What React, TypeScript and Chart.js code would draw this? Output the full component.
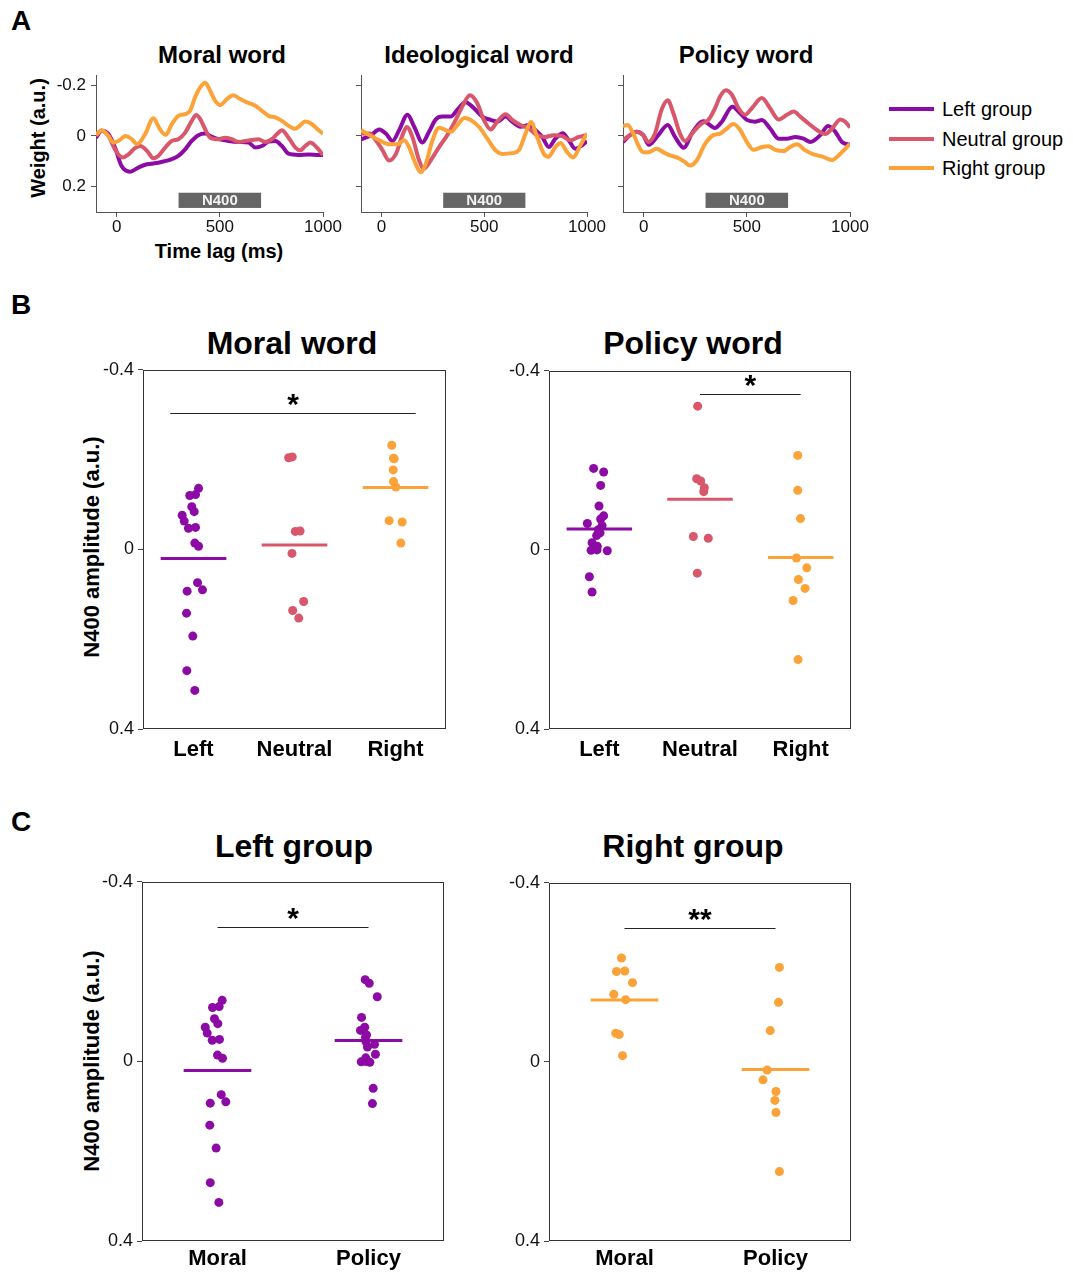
import React, { useEffect, useRef } from 'react';
import { Chart, registerables } from 'chart.js';

Chart.register(...registerables);

const FONT = '"Liberation Sans", Arial, Helvetica, sans-serif';
Chart.defaults.font.family = FONT;

const PURPLE = '#8C0BA5';
const PINK = '#D8576B';
const ORANGE = '#FBA238';
const groupNames = ['Left group', 'Neutral group', 'Right group'];
const groupColors = [PURPLE, PINK, ORANGE];

// ---------------- Panel A: TRF weights, [time lag (ms), weight (a.u.)] ----------------
const timeTicks = [0, 500, 1000];
const weightTicks = [-0.2, 0, 0.2];
const n400Window = [300, 700];

const moralLeft = [[-100, 0.007], [-73, -0.02], [-40, -0.007], [-8, 0.046], [24, 0.119], [65, 0.141], [105, 0.125], [146, 0.112], [202, 0.106], [267, 0.092], [299, 0.079], [332, 0.053], [364, 0.02], [396, -0.003], [429, -0.009], [461, 0.003], [494, 0.013], [542, 0.02], [591, 0.024], [639, 0.026], [672, 0.046], [704, 0.04], [736, 0.022], [769, 0.02], [801, 0.04], [833, 0.07], [882, 0.075], [930, 0.073], [979, 0.075], [1000, 0.075]];
const moralNeutral = [[-100, 0], [-73, -0.02], [-40, 0], [-8, 0.053], [27, 0.085], [57, 0.073], [89, 0.048], [115, 0.04], [150, 0.062], [178, 0.088], [202, 0.079], [235, 0.046], [267, 0.02], [299, 0.013], [332, -0.013], [364, -0.059], [385, -0.082], [405, -0.066], [429, -0.026], [453, 0.007], [494, 0.013], [526, 0.007], [558, 0.013], [591, 0.024], [623, 0.02], [655, 0.016], [688, 0.013], [720, 0.024], [752, 0.013], [777, -0.007], [801, -0.022], [833, 0.007], [866, 0.046], [890, 0.057], [914, 0.04], [939, 0.026], [963, 0.04], [1000, 0.075]];
const moralRight = [[-100, -0.005], [-73, -0.022], [-40, 0], [-16, 0.026], [8, 0.02], [45, 0], [73, 0.013], [100, 0.032], [138, -0.007], [178, -0.07], [210, -0.026], [238, -0.004], [267, -0.046], [299, -0.079], [332, -0.086], [356, -0.099], [380, -0.152], [405, -0.191], [429, -0.209], [453, -0.178], [477, -0.139], [502, -0.121], [534, -0.145], [566, -0.16], [599, -0.145], [631, -0.132], [672, -0.119], [704, -0.099], [736, -0.079], [769, -0.073], [801, -0.059], [833, -0.04], [862, -0.028], [882, -0.036], [914, -0.057], [947, -0.046], [979, -0.022], [1000, -0.009]];

const ideoLeft = [[-100, 0.014], [-52, -0.003], [-11, -0.025], [21, -0.009], [53, 0.02], [86, -0.023], [126, -0.083], [159, -0.036], [199, 0.026], [231, -0.016], [264, -0.065], [296, -0.076], [337, -0.076], [369, -0.103], [409, -0.133], [450, -0.109], [490, -0.076], [531, -0.063], [563, -0.056], [604, -0.076], [636, -0.056], [676, -0.036], [717, -0.043], [749, -0.023], [782, 0.004], [814, 0.044], [846, 0.011], [882, -0.01], [911, 0.017], [943, 0.051], [976, 0.037], [1000, 0.02]];
const ideoNeutral = [[-100, -0.009], [-60, -0.009], [-28, 0.017], [5, 0.057], [37, 0.097], [70, 0.071], [102, -0.003], [123, -0.035], [150, 0.004], [183, 0.097], [205, 0.13], [239, 0.097], [280, 0.044], [320, -0.003], [361, -0.063], [393, -0.116], [430, -0.16], [466, -0.129], [498, -0.063], [531, -0.025], [563, -0.056], [604, -0.085], [636, -0.063], [676, -0.043], [717, -0.029], [757, -0.003], [798, 0.004], [838, -0.003], [879, 0.001], [919, 0.017], [960, 0.004], [1000, -0.003]];
const ideoRight = [[-100, -0.023], [-60, -0.003], [-11, 0.017], [37, 0.033], [78, 0.033], [110, 0.017], [134, 0.044], [159, 0.097], [192, 0.143], [215, 0.111], [248, 0.017], [280, -0.032], [312, -0.023], [337, -0.016], [369, -0.043], [404, -0.071], [434, -0.063], [474, -0.036], [515, 0.011], [555, 0.057], [587, 0.071], [636, 0.068], [668, 0.057], [701, -0.009], [727, -0.055], [757, 0.004], [790, 0.071], [812, 0.082], [846, 0.044], [871, 0.028], [903, 0.064], [932, 0.085], [968, 0.037], [1000, -0.009]];

const policyLeft = [[-100, 0.024], [-66, -0.003], [-34, -0.016], [-2, -0.003], [25, 0.035], [71, -0.003], [117, -0.043], [152, 0.004], [195, 0.047], [233, -0.009], [273, -0.052], [290, -0.058], [306, -0.052], [345, -0.031], [379, -0.056], [430, -0.115], [468, -0.089], [500, -0.063], [540, -0.056], [573, -0.063], [613, -0.029], [654, 0.011], [694, 0.011], [735, 0.004], [775, 0.011], [808, 0.024], [856, -0.003], [894, -0.039], [929, -0.016], [961, 0.024], [1000, 0.035]];
const policyNeutral = [[-100, 0.017], [-66, -0.003], [-34, -0.016], [-2, -0.003], [23, 0.024], [55, -0.009], [87, -0.103], [117, -0.14], [144, -0.089], [176, -0.009], [201, 0.02], [241, -0.016], [282, -0.049], [314, -0.063], [346, -0.109], [371, -0.156], [398, -0.18], [427, -0.163], [460, -0.109], [492, -0.083], [524, -0.109], [573, -0.149], [613, -0.109], [654, -0.065], [694, -0.083], [727, -0.096], [759, -0.076], [799, -0.049], [840, -0.023], [880, -0.007], [913, -0.029], [953, -0.065], [977, -0.056], [1000, -0.033]];
const policyRight = [[-100, -0.039], [-78, -0.043], [-50, -0.009], [-26, 0.037], [-2, 0.064], [23, 0.064], [63, 0.051], [95, 0.064], [128, 0.077], [168, 0.087], [201, 0.104], [225, 0.117], [257, 0.097], [298, 0.031], [338, -0.003], [371, -0.009], [403, -0.029], [435, -0.047], [468, -0.023], [500, 0.024], [532, 0.055], [573, 0.044], [605, 0.041], [638, 0.055], [678, 0.06], [710, 0.044], [743, 0.033], [783, 0.057], [824, 0.073], [864, 0.081], [913, 0.095], [945, 0.077], [977, 0.051], [1000, 0.031]];

// ---------------- Panels B & C: N400 amplitude per participant ----------------
const groupCats = ['Left', 'Neutral', 'Right'];
const wordCats = ['Moral', 'Policy'];
const ampTicks = [-0.4, 0, 0.4];

const leftMoral = [-0.136, -0.120, -0.122, -0.095, -0.084, -0.076, -0.063, -0.047, -0.049, -0.014, -0.007, 0.074, 0.093, 0.090, 0.142, 0.193, 0.270, 0.314];
const neutralMoral = [-0.204, -0.206, -0.040, -0.041, 0.009, 0.116, 0.136, 0.153];
const rightMoral = [-0.232, -0.203, -0.202, -0.177, -0.151, -0.139, -0.064, -0.061, -0.014];
const leftPolicy = [-0.182, -0.174, -0.144, -0.098, -0.076, -0.069, -0.059, -0.054, -0.045, -0.038, -0.032, -0.016, -0.008, 0.001, 0.0, 0.002, 0.060, 0.094];
const neutralPolicy = [-0.321, -0.159, -0.154, -0.139, -0.130, -0.030, -0.026, 0.052];
const rightPolicy = [-0.211, -0.133, -0.070, 0.018, 0.040, 0.066, 0.086, 0.113, 0.245];

// strip-plot horizontal jitter (category units)
const jitLeftMoralB = [0.05, -0.037, 0.02, -0.017, 0.007, -0.112, -0.092, -0.05, 0.02, 0.013, 0.05, 0.04, -0.063, 0.089, -0.069, -0.007, -0.066, 0.013];
const jitNeutralMoralB = [-0.058, -0.022, 0.008, 0.055, -0.025, 0.091, -0.018, 0.042];
const jitRightMoralB = [-0.037, -0.02, -0.013, -0.023, -0.02, 0.003, -0.063, 0.066, 0.053];
const jitLeftPolicyB = [-0.057, 0.043, 0.013, -0.003, 0.043, 0.013, -0.119, 0.027, -0.01, 0.007, -0.027, -0.072, -0.02, -0.082, -0.023, 0.079, -0.099, -0.072];
const jitNeutralPolicyB = [-0.023, -0.033, 0.007, 0.043, 0.037, -0.066, 0.082, -0.027];
const jitRightPolicyB = [-0.029, -0.029, -0.002, -0.042, 0.061, -0.022, 0.044, -0.075, -0.026];
const jitLeftMoralC = [0.031, -0.033, 0.011, -0.02, 0.002, -0.081, -0.068, -0.035, 0.013, 0, 0.033, 0.025, -0.048, 0.055, -0.051, -0.009, -0.048, 0.009];
const jitLeftPolicyC = [-0.022, 0.005, 0.058, -0.046, -0.025, -0.053, -0.013, -0.02, -0.018, 0.04, -0.007, 0.046, -0.018, -0.048, -0.018, 0.009, 0.031, 0.026];
const jitRightMoralC = [-0.02, 0.002, -0.053, 0.053, -0.071, 0.007, -0.058, -0.035, -0.013];
const jitRightPolicyC = [0.026, 0.02, -0.035, -0.055, -0.083, 0.003, -0.004, 0.003, 0.026];

// significance brackets: [from category, to category, amplitude level]
const sigMoralB = { from: -0.23, to: 2.2, at: -0.303, mark: '*' };
const sigPolicyB = { from: 1, to: 2, at: -0.348, mark: '*' };
const sigLeftC = { from: 0, to: 1, at: -0.299, mark: '*' };
const sigRightC = { from: 0, to: 1, at: -0.299, mark: '**' };

// ---------------------------------------------------------------------------
const fmtTick = (v: number) => (v === 0 ? '0' : String(v));
const mean = (a: number[]) => a.reduce((s, v) => s + v, 0) / a.length;

const n400Plugin = {
  id: 'n400',
  afterDatasetsDraw(chart: any) {
    const { ctx, scales } = chart;
    const x0 = scales.x.getPixelForValue(n400Window[0]);
    const x1 = scales.x.getPixelForValue(n400Window[1]);
    const y0 = scales.y.getPixelForValue(0.224);
    const y1 = scales.y.getPixelForValue(0.284);
    ctx.save();
    ctx.fillStyle = '#666666';
    ctx.fillRect(x0, y0, x1 - x0, y1 - y0);
    ctx.fillStyle = '#f2f2f2';
    ctx.font = `bold 15px ${FONT}`;
    ctx.textAlign = 'center';
    ctx.textBaseline = 'middle';
    ctx.fillText('N400', (x0 + x1) / 2, (y0 + y1) / 2 + 1);
    ctx.restore();
  },
};

function trfConfig(series: number[][][], showY: boolean): any {
  const axisColor = '#555';
  return {
    type: 'line',
    data: {
      datasets: series.map((s, i) => ({
        label: groupNames[i],
        data: s.map(([t, w]) => ({ x: t, y: w })),
        borderColor: groupColors[i],
        borderWidth: 4,
        pointRadius: 0,
        cubicInterpolationMode: 'monotone',
        fill: false,
        order: series.length - i,
      })),
    },
    options: {
      animation: false,
      responsive: false,
      events: [],
      layout: { padding: { top: 16, right: 27, left: 0, bottom: 0 } },
      plugins: { legend: { display: false }, tooltip: { enabled: false }, title: { display: false } },
      scales: {
        x: {
          type: 'linear',
          min: -100,
          max: 1000,
          afterBuildTicks: (s: any) => { s.ticks = timeTicks.map((v) => ({ value: v })); },
          afterFit: (s: any) => { s.height = 33; },
          ticks: { font: { size: 17 }, color: '#111', padding: 0, maxRotation: 0, autoSkip: false, callback: (v: any) => String(v) },
          grid: { display: true, drawOnChartArea: false, drawTicks: true, tickLength: 5, color: axisColor },
          border: { display: true, color: axisColor, width: 1 },
        },
        y: {
          type: 'linear',
          reverse: true,
          min: -0.24,
          max: 0.3,
          afterBuildTicks: (s: any) => { s.ticks = weightTicks.map((v) => ({ value: v })); },
          afterFit: (s: any) => { s.width = 56; },
          ticks: { font: { size: 17 }, color: '#111', padding: 5, autoSkip: false, callback: (v: any) => (showY ? fmtTick(v) : '') },
          grid: { display: true, drawOnChartArea: false, drawTicks: true, tickLength: 5, color: axisColor },
          border: { display: true, color: axisColor, width: 1 },
        },
      },
    },
    plugins: [n400Plugin],
  };
}

type Strip = { values: number[]; jitter: number[]; cat: number; color: string };
type Sig = { from: number; to: number; at: number; mark: string };

function boxPlugin() {
  return {
    id: 'box',
    afterDraw(chart: any) {
      const { ctx, chartArea: a } = chart;
      ctx.save();
      ctx.strokeStyle = '#333';
      ctx.lineWidth = 1;
      const l = Math.round(a.left) + 0.5, t = Math.round(a.top) + 0.5;
      const r = Math.round(a.right) - 0.5, b = Math.round(a.bottom) - 0.5;
      ctx.strokeRect(l, t, r - l, b - t);
      ctx.restore();
    },
  };
}

function sigPlugin(sig: Sig) {
  return {
    id: 'sig',
    afterDatasetsDraw(chart: any) {
      const { ctx, scales } = chart;
      const x0 = scales.x.getPixelForValue(sig.from);
      const x1 = scales.x.getPixelForValue(sig.to);
      const yy = Math.round(scales.y.getPixelForValue(sig.at)) + 0.5;
      ctx.save();
      ctx.strokeStyle = '#222';
      ctx.lineWidth = 1;
      ctx.beginPath();
      ctx.moveTo(x0, yy);
      ctx.lineTo(x1, yy);
      ctx.stroke();
      const fs = 30;
      ctx.fillStyle = '#000';
      ctx.font = `bold ${fs}px ${FONT}`;
      ctx.textAlign = 'center';
      ctx.textBaseline = 'alphabetic';
      ctx.fillText(sig.mark, (x0 + x1) / 2, yy - 13 + 0.45 * fs);
      ctx.restore();
    },
  };
}

function dotConfig(cats: string[], strips: Strip[], sig: Sig, hw: number, xh: number, xpad: number): any {
  const datasets: any[] = [];
  strips.forEach((s) => {
    datasets.push({
      type: 'scatter',
      data: s.values.map((v, k) => ({ x: s.cat + s.jitter[k], y: v })),
      pointRadius: 4.5,
      pointBackgroundColor: s.color,
      pointBorderColor: s.color,
      pointBorderWidth: 0,
      order: 2,
    });
    const m = mean(s.values);
    datasets.push({
      type: 'line',
      data: [{ x: s.cat - hw, y: m }, { x: s.cat + hw, y: m }],
      borderColor: s.color,
      borderWidth: 3,
      pointRadius: 0,
      showLine: true,
      fill: false,
      order: 1,
    });
  });
  return {
    type: 'scatter',
    data: { datasets },
    options: {
      animation: false,
      responsive: false,
      events: [],
      layout: { padding: { top: 12, right: 20, left: 0, bottom: 0 } },
      plugins: { legend: { display: false }, tooltip: { enabled: false } },
      scales: {
        x: {
          type: 'linear',
          min: -0.5,
          max: cats.length - 0.5,
          afterBuildTicks: (s: any) => { s.ticks = cats.map((_, i) => ({ value: i })); },
          afterFit: (s: any) => { s.height = xh; },
          ticks: { font: { size: 22, weight: 'bold' }, color: '#000', padding: xpad, maxRotation: 0, autoSkip: false, callback: (v: any) => cats[Number(v)] ?? '' },
          grid: { display: false },
          border: { display: false },
        },
        y: {
          type: 'linear',
          reverse: true,
          min: -0.4,
          max: 0.4,
          afterBuildTicks: (s: any) => { s.ticks = ampTicks.map((v) => ({ value: v })); },
          afterFit: (s: any) => { s.width = 50; },
          ticks: { font: { size: 18 }, color: '#111', padding: 4, autoSkip: false, callback: (v: any) => fmtTick(v) },
          grid: { display: true, drawOnChartArea: false, drawTicks: true, tickLength: 5, color: '#444' },
          border: { display: false },
        },
      },
    },
    plugins: [boxPlugin(), sigPlugin(sig)],
  };
}

function ChartCanvas({ left, top, width, height, make }: any) {
  const ref = useRef<HTMLCanvasElement | null>(null);
  useEffect(() => {
    if (!ref.current) return;
    const chart = new Chart(ref.current, make());
    return () => chart.destroy();
  }, []);
  return <canvas ref={ref} width={width} height={height} style={{ position: 'absolute', left, top, width, height }} />;
}

function Label({ x, y, text, size, bold = false, rotate = false, anchor = 'center' }: any) {
  const tx = anchor === 'left' ? '0' : '-50%';
  return (
    <div
      style={{
        position: 'absolute',
        left: x,
        top: y,
        transform: `translate(${tx}, -50%)${rotate ? ' rotate(-90deg)' : ''}`,
        fontSize: size,
        fontWeight: bold ? 700 : 400,
        lineHeight: 1,
        whiteSpace: 'nowrap',
        fontFamily: FONT,
        color: '#000',
      }}
    >
      {text}
    </div>
  );
}

// plot-area rectangles (page px) -> canvas rectangles
function trfCanvas(a: { L: number; T: number; R: number; B: number }) {
  return { left: a.L - 56, top: a.T - 16, width: a.R + 27 - (a.L - 56), height: a.B + 33 - (a.T - 16) };
}
function dotCanvas(a: { L: number; T: number; R: number; B: number }, xh: number) {
  return { left: a.L - 50, top: a.T - 12, width: a.R + 20 - (a.L - 50), height: a.B + xh - (a.T - 12) };
}

export default function App() {
  const aMoral = trfCanvas({ L: 96, T: 75, R: 323, B: 212 });
  const aIdeo = trfCanvas({ L: 361, T: 75, R: 587, B: 212 });
  const aPolicy = trfCanvas({ L: 623, T: 75, R: 850, B: 212 });
  const bMoral = dotCanvas({ L: 143, T: 367, R: 446, B: 729 }, 36);
  const bPolicy = dotCanvas({ L: 549, T: 368, R: 851, B: 729 }, 36);
  const cLeft = dotCanvas({ L: 142, T: 879, R: 444, B: 1241 }, 30);
  const cRight = dotCanvas({ L: 549, T: 880, R: 851, B: 1241 }, 30);

  return (
    <div style={{ position: 'absolute', left: 0, top: 0, width: 1073, height: 1272, overflow: 'hidden', background: '#fff' }}>
      {/* Panel A */}
      <Label x={21} y={21} size={28} bold text="A" />
      <Label x={222} y={55} size={24} bold text="Moral word" />
      <Label x={479} y={55} size={24} bold text="Ideological word" />
      <Label x={746} y={55} size={24} bold text="Policy word" />
      <Label x={38} y={138} size={20} bold rotate text="Weight (a.u.)" />
      <Label x={219} y={251} size={20} bold text="Time lag (ms)" />
      <ChartCanvas {...aMoral} make={() => trfConfig([moralLeft, moralNeutral, moralRight], true)} />
      <ChartCanvas {...aIdeo} make={() => trfConfig([ideoLeft, ideoNeutral, ideoRight], false)} />
      <ChartCanvas {...aPolicy} make={() => trfConfig([policyLeft, policyNeutral, policyRight], false)} />
      {groupNames.map((g, i) => (
        <React.Fragment key={g}>
          <div style={{ position: 'absolute', left: 889, top: [109, 138.5, 168][i] - 2, width: 45, height: 4, background: groupColors[i] }} />
          <Label x={942} y={[109, 138.5, 168][i]} size={20} anchor="left" text={g} />
        </React.Fragment>
      ))}

      {/* Panel B */}
      <Label x={21} y={305} size={28} bold text="B" />
      <Label x={292} y={343} size={32} bold text="Moral word" />
      <Label x={693} y={343} size={32} bold text="Policy word" />
      <Label x={92} y={547} size={22} bold rotate text="N400 amplitude (a.u.)" />
      <ChartCanvas
        {...bMoral}
        make={() =>
          dotConfig(
            groupCats,
            [
              { values: leftMoral, jitter: jitLeftMoralB, cat: 0, color: PURPLE },
              { values: neutralMoral, jitter: jitNeutralMoralB, cat: 1, color: PINK },
              { values: rightMoral, jitter: jitRightMoralB, cat: 2, color: ORANGE },
            ],
            sigMoralB, 0.325, 36, 0
          )
        }
      />
      <ChartCanvas
        {...bPolicy}
        make={() =>
          dotConfig(
            groupCats,
            [
              { values: leftPolicy, jitter: jitLeftPolicyB, cat: 0, color: PURPLE },
              { values: neutralPolicy, jitter: jitNeutralPolicyB, cat: 1, color: PINK },
              { values: rightPolicy, jitter: jitRightPolicyB, cat: 2, color: ORANGE },
            ],
            sigPolicyB, 0.325, 36, 0
          )
        }
      />

      {/* Panel C */}
      <Label x={21} y={822} size={28} bold text="C" />
      <Label x={294} y={846} size={32} bold text="Left group" />
      <Label x={693} y={846} size={32} bold text="Right group" />
      <Label x={92} y={1061} size={22} bold rotate text="N400 amplitude (a.u.)" />
      <ChartCanvas
        {...cLeft}
        make={() =>
          dotConfig(
            wordCats,
            [
              { values: leftMoral, jitter: jitLeftMoralC, cat: 0, color: PURPLE },
              { values: leftPolicy, jitter: jitLeftPolicyC, cat: 1, color: PURPLE },
            ],
            sigLeftC, 0.224, 30, -3
          )
        }
      />
      <ChartCanvas
        {...cRight}
        make={() =>
          dotConfig(
            wordCats,
            [
              { values: rightMoral, jitter: jitRightMoralC, cat: 0, color: ORANGE },
              { values: rightPolicy, jitter: jitRightPolicyC, cat: 1, color: ORANGE },
            ],
            sigRightC, 0.224, 30, -3
          )
        }
      />
    </div>
  );
}
